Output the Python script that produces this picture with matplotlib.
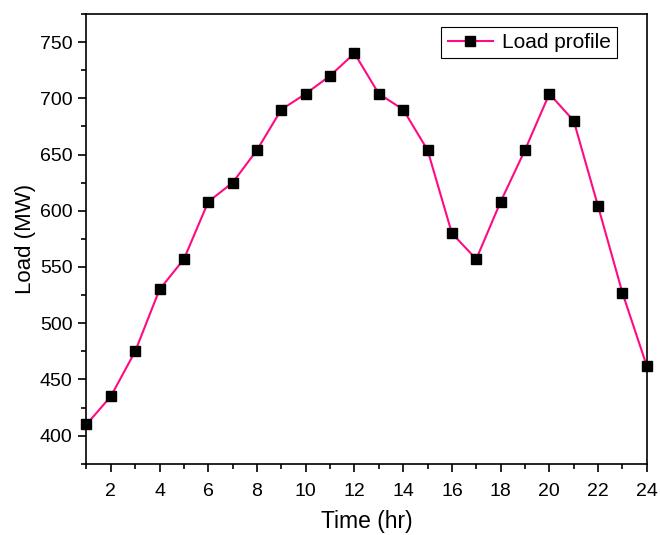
import matplotlib
matplotlib.use("Agg")
import matplotlib.pyplot as plt
from matplotlib.ticker import MultipleLocator

plt.rcParams['font.family'] = ['Liberation Sans', 'DejaVu Sans']

hours = list(range(1, 25))
load = [410, 435, 475, 530, 557, 608, 625, 654, 690, 704, 720, 740,
        704, 690, 654, 580, 557, 608, 654, 704, 680, 604, 527, 462]

fig = plt.figure(figsize=(6.6, 5.35), dpi=100)
ax = fig.add_axes([0.131, 0.133, 0.849, 0.841])

ax.plot(hours, load, "-", color="#FF0A82", lw=1.5, marker="s", markersize=7,
        markerfacecolor="black", markeredgecolor="black", label="Load profile",
        clip_on=False, zorder=3)

ax.set_xlim(1, 24)
ax.set_ylim(375, 775)
ax.xaxis.set_major_locator(MultipleLocator(2))
ax.xaxis.set_minor_locator(MultipleLocator(1))
ax.yaxis.set_major_locator(MultipleLocator(50))
ax.yaxis.set_minor_locator(MultipleLocator(25))
ax.tick_params(which="both", direction="out", top=False, right=False, width=1.2)
ax.tick_params(which="major", length=6, labelsize=14)
ax.tick_params(axis="x", which="major", pad=8)
ax.tick_params(axis="y", which="major", pad=4)
ax.tick_params(which="minor", length=3.5)
for s in ax.spines.values():
    s.set_linewidth(1.2)

ax.set_xlabel("Time (hr)", fontsize=16.5, labelpad=7)
ax.set_ylabel("Load (MW)", fontsize=16, labelpad=3)

leg = ax.legend(loc="upper right", fontsize=15, fancybox=False, framealpha=1,
                edgecolor="black", handlelength=2.2, borderpad=0.3,
                handletextpad=0.4, borderaxespad=0,
                bbox_to_anchor=(0.9465, 0.971))
leg.get_frame().set_linewidth(0.8)

fig.savefig("out.png", dpi=100)
